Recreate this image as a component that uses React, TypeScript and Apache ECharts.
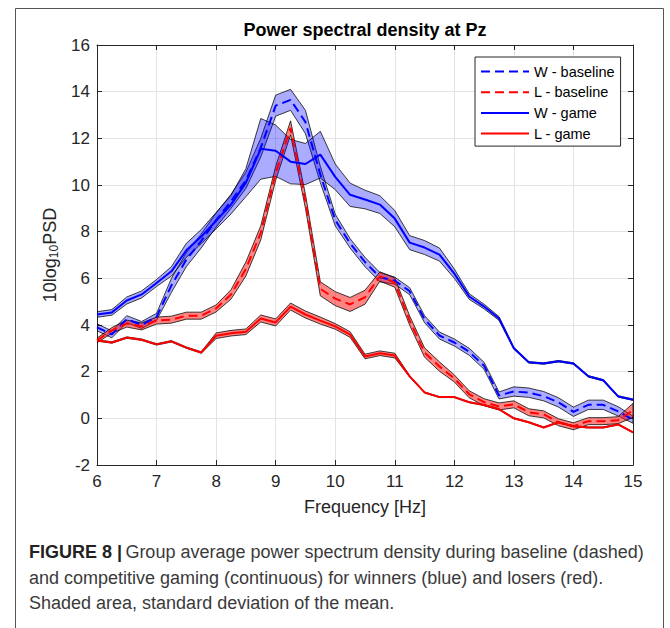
import React, { useEffect, useRef } from "react";
import * as echarts from "echarts";

const freqs = [6, 6.25, 6.5, 6.75, 7, 7.25, 7.5, 7.75, 8, 8.25, 8.5, 8.75, 9, 9.25, 9.5, 9.75, 10, 10.25, 10.5, 10.75, 11, 11.25, 11.5, 11.75, 12, 12.25, 12.5, 12.75, 13, 13.25, 13.5, 13.75, 14, 14.25, 14.5, 14.75, 15];

const wBaseMean = [3.9, 3.6, 4.25, 4.0, 4.35, 5.7, 6.8, 7.6, 8.5, 9.3, 10.2, 11.6, 13.4, 13.65, 12.7, 10.45, 8.5, 7.5, 6.7, 6.05, 5.9, 5.45, 4.25, 3.55, 3.25, 2.85, 2.25, 0.98, 1.15, 1.1, 0.95, 0.68, 0.28, 0.58, 0.58, 0.3, -0.06];
const wBaseSd = [0.15, 0.15, 0.15, 0.15, 0.15, 0.3, 0.3, 0.3, 0.3, 0.3, 0.35, 0.4, 0.45, 0.45, 0.5, 0.35, 0.25, 0.2, 0.2, 0.2, 0.15, 0.15, 0.15, 0.15, 0.15, 0.15, 0.15, 0.15, 0.2, 0.2, 0.2, 0.2, 0.2, 0.2, 0.2, 0.2, 0.15];

const lBaseMean = [3.34, 3.77, 4.06, 3.94, 4.19, 4.23, 4.4, 4.4, 4.71, 5.31, 6.4, 7.95, 10.5, 12.45, 9.3, 5.55, 5.13, 4.88, 5.19, 6.08, 5.82, 4.19, 2.82, 2.22, 1.71, 1.03, 0.69, 0.51, 0.6, 0.26, 0.17, -0.17, -0.34, -0.12, -0.12, -0.08, 0.34];
const lBaseSd = [0.1, 0.12, 0.15, 0.15, 0.15, 0.15, 0.15, 0.15, 0.15, 0.2, 0.3, 0.3, 0.3, 0.3, 0.3, 0.3, 0.3, 0.3, 0.3, 0.2, 0.2, 0.2, 0.2, 0.2, 0.15, 0.15, 0.15, 0.15, 0.15, 0.15, 0.15, 0.15, 0.15, 0.15, 0.15, 0.15, 0.3];

const wGameMean = [4.45, 4.54, 5.05, 5.31, 5.8, 6.3, 7.2, 7.79, 8.47, 9.16, 10.1, 11.55, 11.47, 11.0, 10.9, 11.3, 10.35, 9.58, 9.38, 9.16, 8.56, 7.53, 7.32, 7.02, 6.2, 5.22, 4.79, 4.28, 3.0, 2.4, 2.35, 2.45, 2.35, 1.8, 1.63, 0.94, 0.8];
const wGameSd = [0.12, 0.12, 0.15, 0.15, 0.15, 0.2, 0.3, 0.3, 0.35, 0.4, 0.6, 1.3, 1.1, 0.95, 0.88, 1.0, 0.55, 0.5, 0.4, 0.38, 0.35, 0.3, 0.3, 0.28, 0.2, 0.12, 0.1, 0.08, 0.04, 0.03, 0.03, 0.03, 0.03, 0.03, 0.03, 0.03, 0.03];

const lGameMean = [3.34, 3.25, 3.46, 3.37, 3.17, 3.3, 3.03, 2.82, 3.54, 3.65, 3.71, 4.28, 4.11, 4.79, 4.45, 4.19, 3.94, 3.59, 2.65, 2.79, 2.69, 1.8, 1.11, 0.91, 0.91, 0.69, 0.57, 0.39, 0.0, -0.17, -0.39, -0.17, -0.34, -0.39, -0.39, -0.26, -0.6];
const lGameSd = [0.03, 0.03, 0.03, 0.03, 0.03, 0.03, 0.03, 0.03, 0.12, 0.12, 0.12, 0.15, 0.15, 0.15, 0.15, 0.15, 0.12, 0.12, 0.1, 0.1, 0.1, 0.03, 0.02, 0.02, 0.02, 0.02, 0.02, 0.02, 0.02, 0.02, 0.02, 0.02, 0.02, 0.02, 0.02, 0.02, 0.02];

const xTicks = { min: 6, max: 15, interval: 1 };
const yTicks = { min: -2, max: 16, interval: 2 };

const FONT = "'Liberation Sans', Arial, Helvetica, sans-serif";
const AXIS_COLOR = "#262626";

function bandSeries(name: string, mean: number[], sd: number[], fill: string) {
  return {
    type: "custom",
    name,
    z: 2,
    silent: true,
    clip: true,
    data: [[freqs[0], mean[0]]],
    renderItem: (params: any, api: any) => {
      if (params.dataIndex !== 0) return null;
      const pts: number[][] = [];
      for (let i = 0; i < freqs.length; i++) pts.push(api.coord([freqs[i], mean[i] + sd[i]]));
      for (let i = freqs.length - 1; i >= 0; i--) pts.push(api.coord([freqs[i], mean[i] - sd[i]]));
      return {
        type: "polygon",
        shape: { points: pts },
        style: { fill, stroke: "rgba(0,0,0,0.75)", lineWidth: 1 },
      };
    },
  };
}

function lineSeries(name: string, mean: number[], color: string, dashed: boolean) {
  return {
    type: "line",
    name,
    z: 3,
    symbol: "none",
    color,
    lineStyle: { color, width: 2, type: dashed ? [9, 5] : "solid" },
    data: freqs.map((f, i) => [f, mean[i]]),
  };
}

export default function App() {
  const ref = useRef<HTMLDivElement>(null);
  useEffect(() => {
    if (!ref.current) return;
    const chart = echarts.init(ref.current, undefined, { renderer: "svg" });
    const commonX = {
      type: "value",
      min: xTicks.min,
      max: xTicks.max,
      interval: xTicks.interval,
      axisLine: { show: true, onZero: false, lineStyle: { color: AXIS_COLOR, width: 1 } },
      axisTick: { show: true, inside: true, length: 5, lineStyle: { color: AXIS_COLOR } },
    };
    const commonY = {
      type: "value",
      min: yTicks.min,
      max: yTicks.max,
      interval: yTicks.interval,
      axisLine: { show: true, onZero: false, lineStyle: { color: AXIS_COLOR, width: 1 } },
      axisTick: { show: true, inside: true, length: 5, lineStyle: { color: AXIS_COLOR } },
    };
    chart.setOption({
      animation: false,
      backgroundColor: "#ffffff",
      textStyle: { fontFamily: FONT },
      grid: { left: 97, right: 37, top: 45, bottom: 163, containLabel: false },
      xAxis: [
        {
          ...commonX,
          position: "bottom",
          name: "Frequency [Hz]",
          nameLocation: "middle",
          nameGap: 33,
          nameTextStyle: { fontSize: 18, color: AXIS_COLOR, fontFamily: FONT },
          axisLabel: { show: true, fontSize: 17, color: AXIS_COLOR, margin: 8, fontFamily: FONT },
          splitLine: { show: true, lineStyle: { color: "#e3e3e3", width: 1 } },
        },
        {
          ...commonX,
          position: "top",
          axisLabel: { show: false },
          splitLine: { show: false },
        },
      ],
      yAxis: [
        {
          ...commonY,
          position: "left",
          name: "{m|10log}{s|10}{m|PSD}",
          nameLocation: "middle",
          nameGap: 36,
          nameRotate: 90,
          nameTextStyle: {
            color: AXIS_COLOR,
            fontFamily: FONT,
            rich: {
              m: { fontSize: 18, color: AXIS_COLOR, fontFamily: FONT },
              s: { fontSize: 12, color: AXIS_COLOR, fontFamily: FONT, padding: [8, 0, 0, 0] },
            },
          },
          axisLabel: { show: true, fontSize: 17, color: AXIS_COLOR, margin: 7, fontFamily: FONT },
          splitLine: { show: true, lineStyle: { color: "#e3e3e3", width: 1 } },
        },
        {
          ...commonY,
          position: "right",
          axisLabel: { show: false },
          splitLine: { show: false },
        },
      ],
      legend: {
        orient: "vertical",
        left: 475,
        top: 57,
        itemWidth: 48,
        itemHeight: 14,
        itemGap: 5.7,
        padding: [7, 6, 5, 5],
        borderColor: AXIS_COLOR,
        borderWidth: 1,
        backgroundColor: "#ffffff",
        itemStyle: { opacity: 0 },
        data: ["W - baseline", "L - baseline", "W - game", "L - game"],
        textStyle: { fontSize: 14.5, color: "#000000", fontFamily: FONT },
        z: 10,
      },
      series: [
        bandSeries("W - baseline sd", wBaseMean, wBaseSd, "rgba(0,0,255,0.33)"),
        bandSeries("L - baseline sd", lBaseMean, lBaseSd, "rgba(255,0,0,0.48)"),
        bandSeries("W - game sd", wGameMean, wGameSd, "rgba(0,0,255,0.33)"),
        bandSeries("L - game sd", lGameMean, lGameSd, "rgba(255,0,0,0.48)"),
        lineSeries("W - baseline", wBaseMean, "#0000ff", true),
        lineSeries("L - baseline", lBaseMean, "#ff0000", true),
        lineSeries("W - game", wGameMean, "#0000ff", false),
        lineSeries("L - game", lGameMean, "#ff0000", false),
      ],
      graphic: [
        {
          type: "rect",
          silent: true,
          z: -1,
          shape: { x: 15.5, y: 8.5, width: 648, height: 700 },
          style: { fill: "none", stroke: "#555555", lineWidth: 1 },
        },
        {
          type: "text",
          x: 365,
          y: 30,
          style: {
            text: "Power spectral density at Pz",
            fontSize: 18,
            fontWeight: "bold",
            fontFamily: FONT,
            fill: "#000000",
            textAlign: "center",
            textVerticalAlign: "middle",
          },
        },
        {
          type: "text",
          x: 29,
          y: 552,
          style: {
            text: "{b|FIGURE 8 |} {n|Group average power spectrum density during baseline (dashed)}",
            textVerticalAlign: "middle",
            rich: {
              b: { fontSize: 18, fontWeight: "bold", fill: "#222222", fontFamily: FONT },
              n: { fontSize: 18, fill: "#3a3a3a", fontFamily: FONT },
            },
          },
        },
        {
          type: "text",
          x: 29,
          y: 578,
          style: {
            text: "and competitive gaming (continuous) for winners (blue) and losers (red).",
            fontSize: 18,
            fill: "#3a3a3a",
            fontFamily: FONT,
            textVerticalAlign: "middle",
          },
        },
        {
          type: "text",
          x: 29,
          y: 603,
          style: {
            text: "Shaded area, standard deviation of the mean.",
            fontSize: 18,
            fill: "#3a3a3a",
            fontFamily: FONT,
            textVerticalAlign: "middle",
          },
        },
      ],
    });
    return () => chart.dispose();
  }, []);
  return (
    <div
      ref={ref}
      style={{ position: "absolute", left: 0, top: 0, width: 670, height: 628, background: "#fff" }}
    />
  );
}
